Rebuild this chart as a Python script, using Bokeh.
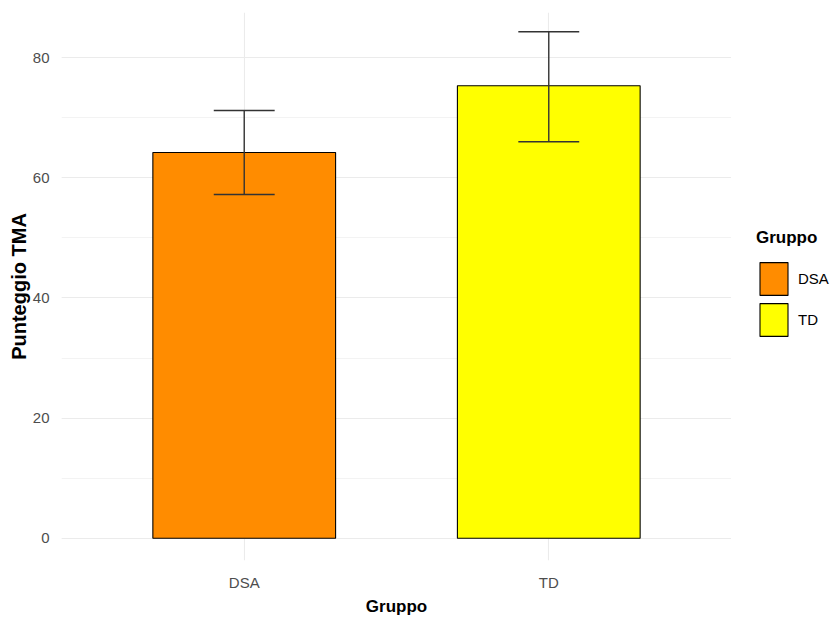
from bokeh.plotting import figure
from bokeh.layouts import row
from bokeh.models import (ColumnDataSource, FactorRange, SingleIntervalTicker,
                          Legend, LegendItem, Range1d)
from bokeh.transform import dodge
from bokeh.embed import file_html
from bokeh.resources import INLINE

# Mean TMA score per group with the bounds of its error bar
groups = ["DSA", "TD"]
means = [64.2, 75.3]
lower = [57.2, 66.0]
upper = [71.2, 84.3]
colors = ["#FF8C00", "#FFFF00"]

src = ColumnDataSource(dict(group=groups, mean=means, lower=lower,
                            upper=upper, color=colors))

SANS = "Liberation Sans"

p = figure(width=731, height=622,
           x_range=FactorRange(*groups, range_padding=0.1,
                               range_padding_units="absolute"),
           y_range=(-3.7, 87.5),
           output_backend="svg", toolbar_location=None,
           min_border_left=61, min_border_right=0,
           min_border_top=12, min_border_bottom=62)
p.outline_line_color = None
p.background_fill_color = "white"
p.border_fill_color = "white"

# bars
p.vbar(x="group", top="mean", width=0.6, source=src,
       fill_color="color", line_color="black", line_width=1.1)

# error bars
p.segment(x0="group", x1="group", y0="lower", y1="upper", source=src,
          line_color="#333333", line_width=1.4)
for col in ("lower", "upper"):
    p.segment(x0=dodge("group", -0.1, range=p.x_range),
              x1=dodge("group", 0.1, range=p.x_range),
              y0=col, y1=col, source=src,
              line_color="#333333", line_width=1.4)

# axes
p.yaxis.ticker = SingleIntervalTicker(interval=20, num_minor_ticks=2)
for ax in (p.xaxis[0], p.yaxis[0]):
    ax.axis_line_color = None
    ax.major_tick_line_color = None
    ax.minor_tick_line_color = None
    ax.major_label_text_color = "#4D4D4D"
    ax.major_label_text_font = SANS
    ax.major_label_text_font_size = "15px"
    ax.axis_label_text_color = "black"
    ax.axis_label_text_font = SANS
    ax.axis_label_text_font_style = "bold"

p.xaxis.axis_label = "Gruppo"
p.xaxis.axis_label_text_font_size = "17px"
p.xaxis.major_label_standoff = 7
p.xaxis.axis_label_standoff = 3

p.yaxis.axis_label = "Punteggio TMA"
p.yaxis.axis_label_text_font_size = "20px"
p.yaxis.major_label_standoff = 6
p.yaxis.axis_label_standoff = 0

# grid
p.xgrid.grid_line_color = "#EBEBEB"
p.xgrid.grid_line_width = 1.1
p.ygrid.grid_line_color = "#EBEBEB"
p.ygrid.grid_line_width = 1.1
p.ygrid.minor_grid_line_color = "#F0F0F0"
p.ygrid.minor_grid_line_width = 0.8

# legend panel: a muted (fully transparent) key renderer over the same data,
# so that only the legend swatches appear
lp = figure(width=101, height=622,
            x_range=FactorRange(*groups), y_range=Range1d(5000, 6000),
            output_backend="svg", toolbar_location=None,
            x_axis_location=None, y_axis_location=None,
            min_border=0, min_border_left=0, min_border_right=0,
            min_border_top=0, min_border_bottom=0)
lp.outline_line_color = None
lp.xgrid.visible = False
lp.ygrid.visible = False
key = lp.vbar(x="group", top="mean", width=0.6, source=src,
              fill_color="color", line_color="black", line_width=1.1,
              muted_alpha=0)
key.muted = True

lg = Legend(items=[LegendItem(label=g, renderers=[key], index=i)
                   for i, g in enumerate(groups)])
lg.title = "Gruppo"
lg.title_text_font = SANS
lg.title_text_font_style = "bold"
lg.title_text_font_size = "17px"
lg.title_text_color = "black"
lg.title_standoff = 10
lg.label_text_font = SANS
lg.label_text_font_size = "15px"
lg.label_text_color = "black"
lg.label_standoff = 7
lg.glyph_width = 35
lg.glyph_height = 41
lg.label_height = 41
lg.spacing = -5
lg.padding = 0
lg.margin = 0
lg.border_line_color = None
lg.background_fill_alpha = 0
lg.location = (25, 220)
lp.add_layout(lg)

open("out.html", "w").write(file_html(row(p, lp), INLINE))
